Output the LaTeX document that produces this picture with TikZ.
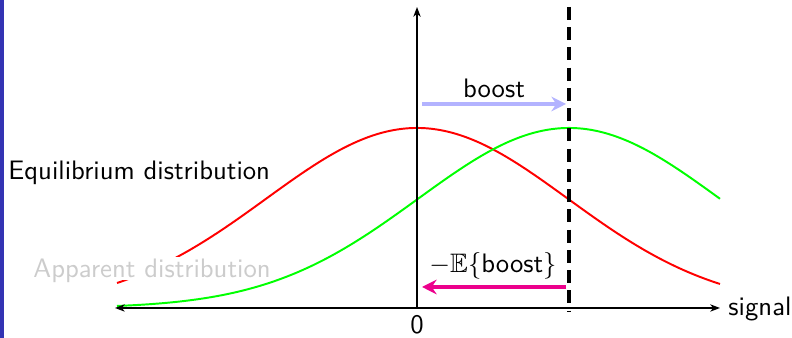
\documentclass[tikz,border=0pt]{standalone}
\usepackage{amsmath,amssymb}
\usetikzlibrary{arrows.meta}
\definecolor{barblue}{RGB}{51,51,179}
\definecolor{boostcol}{RGB}{179,179,255}
\definecolor{magcol}{RGB}{236,0,140}
\begin{document}
\begin{tikzpicture}[x=0.41pt,y=-0.41pt,
  font=\fontsize{10.95}{13}\selectfont\sffamily,
  axisline/.style={line width=0.6pt},
  axtip/.style={-{Stealth[length=4pt,width=3pt,inset=1.2pt]}},
  axtips/.style={{Stealth[length=4pt,width=3pt,inset=1.2pt]}-{Stealth[length=4pt,width=3pt,inset=1.2pt]}},
  dashline/.style={line width=1.4pt,dash pattern=on 5.3pt off 3pt},
  curve/.style={line width=0.8pt},
  bigarrow/.style={line width=2pt,-{Stealth[length=6pt,width=6pt,inset=2pt]}},
  lbl/.style={inner sep=0pt,anchor=base}]
\useasboundingbox (0,0) rectangle (792,338);
\fill[barblue] (0,0) rectangle (4,338);
% distributions
\draw[curve,red] plot[domain=117:720,samples=120,smooth] (\x,{308-180*exp(-0.5*((\x-417)/151)^2)});
\draw[curve,green] plot[domain=117:720,samples=120,smooth] (\x,{308-180*exp(-0.5*((\x-569)/151)^2)});
% labels of distributions
\node[anchor=base west,inner sep=0pt] (eq) at (8,180) {Equilibrium distribution};
\node[anchor=base west,inner sep=0pt,inner ysep=1pt,text depth=0pt,fill=white,text=black!20] (app) at (33,278) {Apparent distribution};
% axes
\coordinate (O) at (417,308);
\coordinate (xl) at (115,308);
\coordinate (xr) at (720,308);
\coordinate (yt) at (417,7);
\draw[axisline,axtips] (xl) -- (xr);
\draw[axisline,axtip] (O) -- (yt);
\coordinate (dt) at (569,7);
\coordinate (db) at (569,311);
\draw[dashline] (dt) -- (db);
\node[lbl] (zero) at (417,334) {0};
\node[lbl,anchor=base west] (sig) at (728,316) {signal};
% boost
\coordinate (ba) at (422,104);
\coordinate (bb) at (566,104);
\draw[bigarrow,boostcol] (ba) -- (bb);
\node[lbl] (boost) at (494,98) {boost};
% expected boost
\coordinate (ma) at (566,287);
\coordinate (mb) at (422,287);
\draw[bigarrow,magcol] (ma) -- (mb);
\node[lbl] (eb) at (493,273) {$-\mathbb{E}\{\text{boost}\}$};
\end{tikzpicture}
\end{document}
